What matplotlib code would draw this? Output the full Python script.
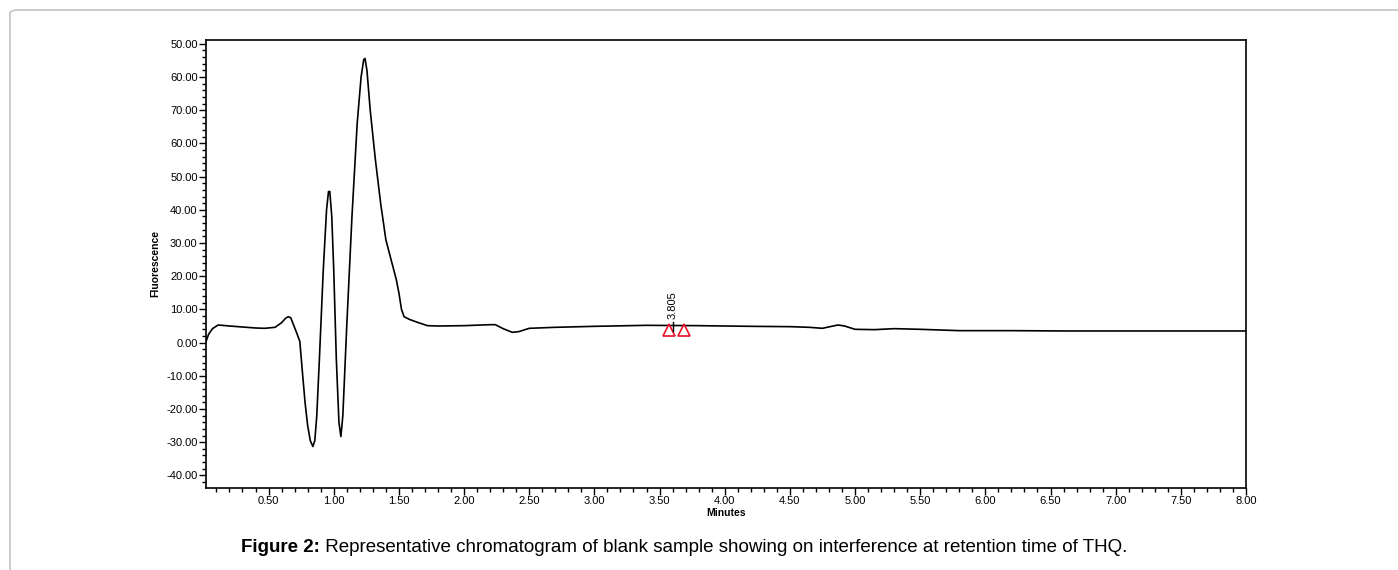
import matplotlib
matplotlib.use("Agg")
import matplotlib.pyplot as plt
from matplotlib.ticker import MultipleLocator, FixedLocator, FixedFormatter
from matplotlib.patches import FancyBboxPatch

plt.rcParams["font.family"] = ["Liberation Sans", "DejaVu Sans"]

# chromatogram trace
minutes = [0.02, 0.04, 0.07, 0.113, 0.2, 0.3, 0.4, 0.47, 0.55, 0.6, 0.63, 0.65,
           0.67, 0.69, 0.72, 0.74, 0.76, 0.78, 0.80, 0.82, 0.84, 0.855, 0.87,
           0.89, 0.92, 0.945, 0.96, 0.97, 0.985, 1.0, 1.02, 1.04, 1.055, 1.07,
           1.10, 1.14, 1.18, 1.21, 1.23, 1.24, 1.255, 1.28, 1.32, 1.36, 1.40,
           1.44, 1.48, 1.50, 1.52, 1.54, 1.58, 1.65, 1.72, 1.8, 2.0, 2.2, 2.24,
           2.3, 2.37, 2.42, 2.5, 2.7, 3.0, 3.4, 3.8, 4.2, 4.5, 4.65, 4.75, 4.82,
           4.87, 4.92, 5.0, 5.15, 5.3, 5.5, 5.8, 6.2, 6.6, 7.0, 7.5, 8.0]
fluor = [0.3, 2.5, 4.2, 5.3, 5.0, 4.7, 4.4, 4.3, 4.6, 6.0, 7.3, 7.8,
         7.5, 5.5, 2.5, 0.3, -9, -18, -25, -29.5, -31.3, -29.5, -22,
         -5, 22, 40, 45.5, 45.5, 38, 22, -5, -24, -28.3, -22,
         5, 38, 66, 80, 85.2, 85.6, 82, 70, 55, 42, 31,
         25, 19, 15, 10, 7.8, 7.0, 6.0, 5.1, 5.0, 5.1, 5.4, 5.4,
         4.2, 3.1, 3.3, 4.3, 4.6, 4.9, 5.2, 5.1, 4.9, 4.8, 4.6, 4.3, 4.9,
         5.3, 5.0, 4.0, 3.9, 4.2, 4.0, 3.6, 3.6, 3.5, 3.5, 3.5, 3.5]

# integration markers
marker_x = [3.57, 3.69]
marker_y = [3.8, 3.8]
peak_label = "3.805"
peak_label_x = 3.60

# y tick labels exactly as printed in the source
ytick_pos = [90, 80, 70, 60, 50, 40, 30, 20, 10, 0, -10, -20, -30, -40]
ytick_lbl = ["50.00", "60.00", "70.00", "60.00", "50.00", "40.00", "30.00",
             "20.00", "10.00", "0.00", "-10.00", "-20.00", "-30.00", "-40.00"]
xtick_pos = [0.5, 1.0, 1.5, 2.0, 2.5, 3.0, 3.5, 4.0, 4.5, 5.0, 5.5, 6.0, 6.5,
             7.0, 7.5, 8.0]

caption_bold = "Figure 2:"
caption_rest = " Representative chromatogram of blank sample showing on interference at retention time of THQ."

fig = plt.figure(figsize=(13.98, 5.7), dpi=100)
ax = fig.add_axes([206 / 1398, 1 - 488 / 570, (1246 - 206) / 1398, (488 - 39.5) / 570])

ax.plot(minutes, fluor, color="black", lw=1.2, solid_joinstyle="round")
ax.plot(marker_x, marker_y, linestyle="none", marker="^", mfc="none",
        mec="#e8102a", ms=8, mew=1.2)
ax.plot([peak_label_x, peak_label_x], [3.6, 6.3], color="black", lw=1)
ax.text(peak_label_x, 7.2, peak_label, rotation=90, ha="center", va="bottom",
        fontsize=8)

ax.set_xlim(0.02, 8.0)
ax.set_ylim(-43.8, 91.3)
ax.xaxis.set_major_locator(FixedLocator(xtick_pos))
ax.xaxis.set_major_formatter(FixedFormatter([f"{v:.2f}" for v in xtick_pos]))
ax.xaxis.set_minor_locator(MultipleLocator(0.1))
ax.yaxis.set_major_locator(FixedLocator(ytick_pos))
ax.yaxis.set_major_formatter(FixedFormatter(ytick_lbl))
ax.yaxis.set_minor_locator(MultipleLocator(2))
ax.tick_params(which="major", direction="out", length=5, width=1, labelsize=8,
               pad=1, colors="black")
ax.tick_params(which="minor", direction="out", length=3, width=1)
for sp in ax.spines.values():
    sp.set_linewidth(1.2)

ax.set_xlabel("Minutes", fontsize=7.5, fontweight="bold", labelpad=1)
ax.set_ylabel("Fluorescence", fontsize=7.5, fontweight="bold", labelpad=4)

# page frame
frame = FancyBboxPatch((10 / 1398, -0.1), 1.2, 0.1 + 1 - 10 / 570,
                       boxstyle="round,pad=0,rounding_size=0.006",
                       transform=fig.transFigure, fill=False, ec="#c4c4c4",
                       lw=1.2, clip_on=False)
fig.patches.append(frame)

# caption: bold prefix then regular text
t1 = fig.text(241 / 1398, 1 - 548 / 570, caption_bold, fontsize=13.5,
              fontweight="bold", va="center", ha="left")
fig.canvas.draw()
bb = t1.get_window_extent()
fig.text(bb.x1 / fig.bbox.width, 1 - 548 / 570, caption_rest, fontsize=13.5,
         va="center", ha="left")

fig.savefig("out.png", dpi=100)
